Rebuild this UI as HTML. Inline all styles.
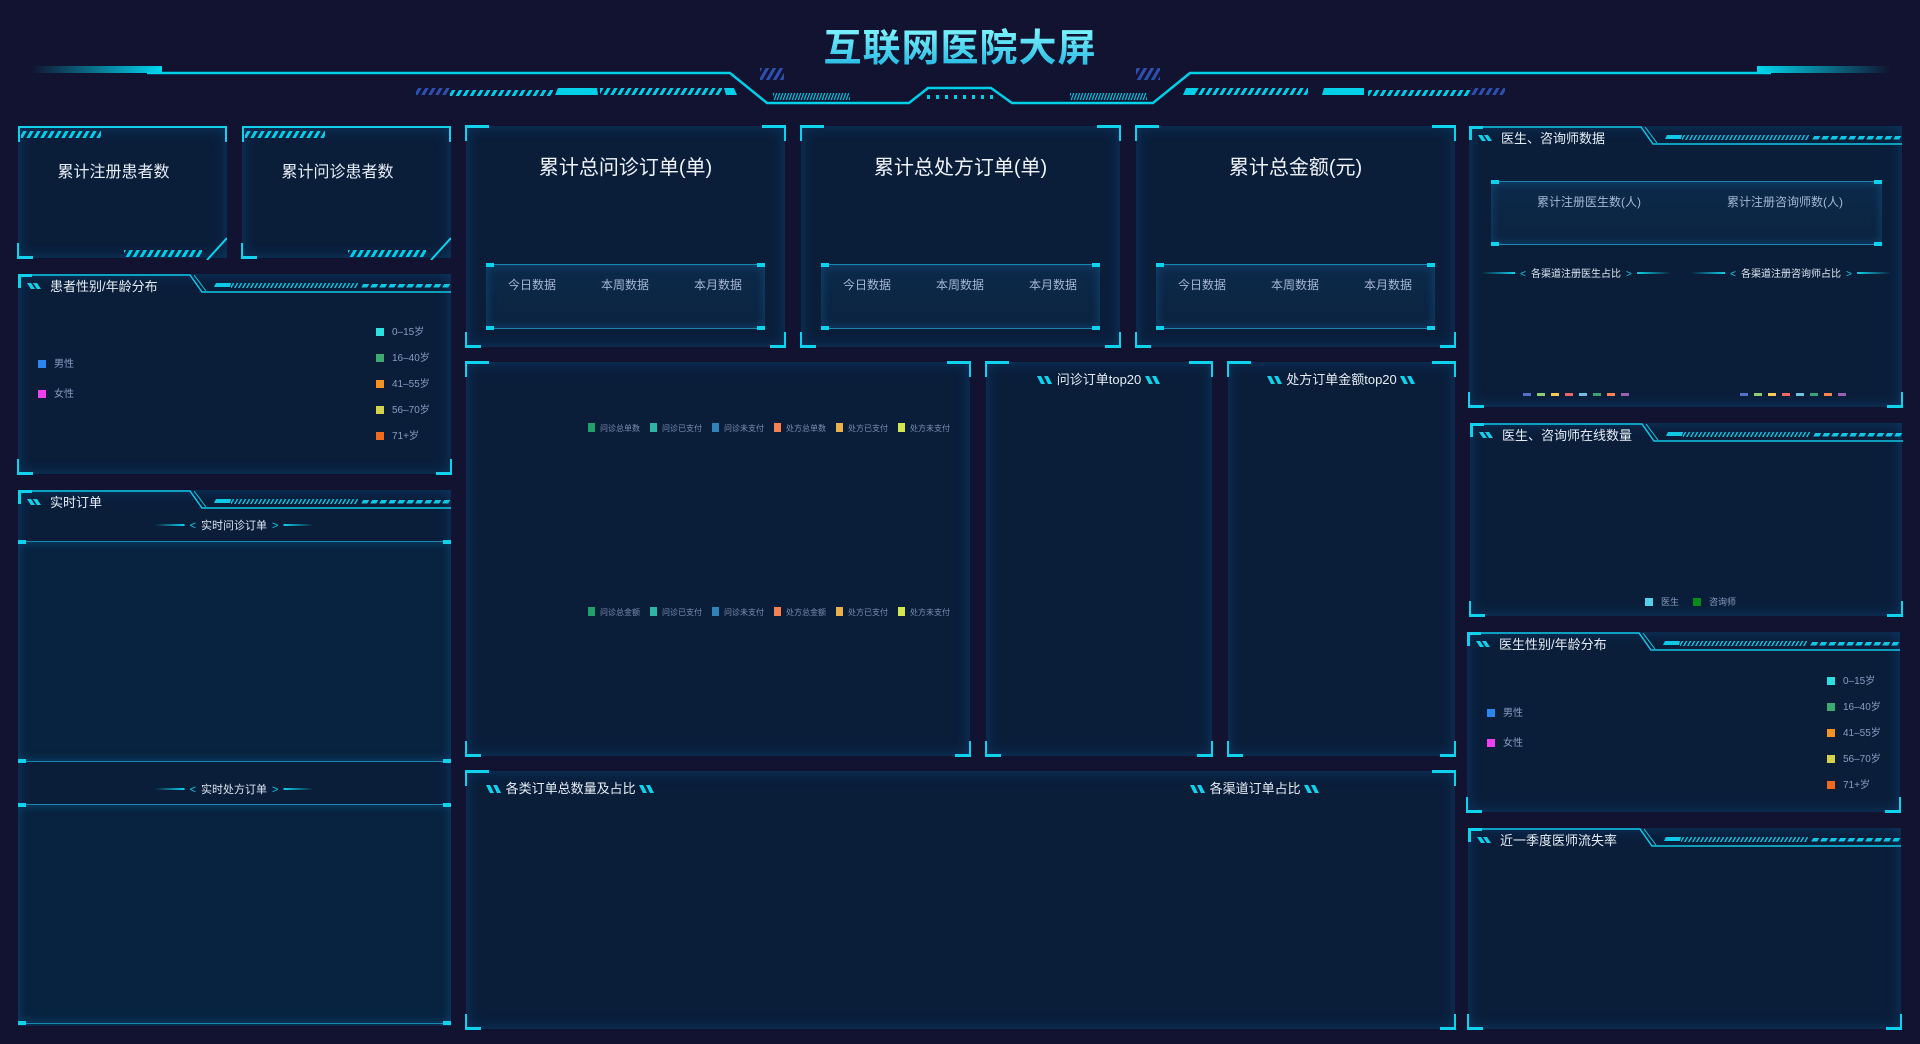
<!DOCTYPE html>
<html><head><meta charset="utf-8">
<style>
*{margin:0;padding:0;box-sizing:border-box}
body{width:1920px;height:1044px;background:#111330;overflow:hidden;position:relative;font-family:"Liberation Sans","Noto Sans CJK SC",sans-serif;color:#e6edf5}
.a{position:absolute}
.p{position:absolute;background:#0a1e3a;box-shadow:inset 0 0 14px rgba(20,110,190,.35)}
.c{position:absolute;width:16px;height:16px;border:0 solid #0fd2ec}
.tl{left:-1px;top:-1px;border-top-width:3px;border-left-width:2px;width:24px;height:16px}
.tr{right:-1px;top:-1px;border-top-width:3px;border-right-width:2px;width:24px;height:16px}
.bl{left:-1px;bottom:-1px;border-bottom-width:3px;border-left-width:2px;width:16px;height:16px}
.br{right:-1px;bottom:-1px;border-bottom-width:3px;border-right-width:2px;width:16px;height:16px}
.big{position:absolute;left:0;right:0;top:25px;text-align:center;font-size:20px;color:#f0f4fa}
.ib{position:absolute;background:linear-gradient(#0c2a4a,#0b2340);border-top:1px solid #1c86b0;border-bottom:1px solid #1c86b0;box-shadow:inset 0 0 10px rgba(30,140,220,.35)}
.ib:before,.ib:after{content:"";position:absolute;top:-2px;width:8px;height:4px;background:#0fd2ec}
.ib:before{left:0}.ib:after{right:0}
.ib i{position:absolute;bottom:-2px;width:8px;height:4px;background:#0fd2ec}
.lab{position:absolute;font-size:12px;color:#a6b6d6}
.lg{position:absolute;font-size:10px;color:#8a9cc0;white-space:nowrap}
.lg b{display:inline-block;width:8px;height:8px;margin-right:8px;vertical-align:-1px}
.cl{position:absolute;font-size:8px;color:#7d8fb0;white-space:nowrap}
.cl span{margin-right:10px}
.cl b{display:inline-block;width:7px;height:9px;margin-right:5px;vertical-align:-1px}
.t2{position:absolute;font-size:13px;color:#e6edf5;white-space:nowrap}
.sl{display:inline-block;width:16px;height:8px;vertical-align:0px}
.sub{position:absolute;font-size:11px;color:#dde6f0;white-space:nowrap;transform:translateX(-50%)}
.sub:before,.sub:after{content:"";display:inline-block;width:30px;height:2px;vertical-align:3px;background:linear-gradient(90deg,transparent,#0fd2ec)}
.sub:after{background:linear-gradient(90deg,#0fd2ec,transparent)}
.sub em{font-style:normal;color:#0fd2ec;margin:0 5px}
.sub.w:before,.sub.w:after{width:34px}
</style></head><body>

<svg class="a" style="left:0;top:0" width="1920" height="120">
<defs>
<linearGradient id="gl" x1="0" x2="1"><stop offset="0" stop-color="#00d8f0" stop-opacity="0"/><stop offset="1" stop-color="#00d8f0"/></linearGradient>
<linearGradient id="gr" x1="1" x2="0"><stop offset="0" stop-color="#00d8f0" stop-opacity="0"/><stop offset="1" stop-color="#00d8f0"/></linearGradient>
<pattern id="h" width="7" height="20" patternUnits="userSpaceOnUse" patternTransform="skewX(-30)"><rect width="3.5" height="20" fill="#00cfe8"/></pattern>
<pattern id="hb" width="7" height="20" patternUnits="userSpaceOnUse" patternTransform="skewX(-30)"><rect width="3.5" height="20" fill="#2f4fb0"/></pattern>
<pattern id="hf" width="3" height="20" patternUnits="userSpaceOnUse" patternTransform="skewX(-20)"><rect width="1.2" height="20" fill="#00cfe8"/></pattern>
<linearGradient id="tg" x1="0" y1="0" x2="0" y2="1"><stop offset="0" stop-color="#7ff6ff"/><stop offset="1" stop-color="#1fb4e0"/></linearGradient>
</defs>
<rect x="31" y="66" width="131" height="7" fill="url(#gl)"/>
<rect x="1757" y="66" width="134" height="7" fill="url(#gr)"/>
<polyline points="147,73 730,73 767,103 909,103 928,88 991,88 1012,103 1153,103 1190,73 1771,73" fill="none" stroke="#00cfe8" stroke-width="2.5"/>
<rect x="416" y="88" width="34" height="7" fill="url(#hb)"/>
<rect x="450" y="90" width="103" height="6" fill="url(#h)"/>
<polygon points="558,88 597,88 598,95 555,95" fill="#00cfe8"/>
<rect x="600" y="88" width="122" height="7" fill="url(#h)"/>
<polygon points="724,88 734,88 737,95 726,95" fill="#00cfe8"/>
<rect x="1186" y="88" width="122" height="7" fill="url(#h)"/>
<polygon points="1186,88 1196,88 1193,95 1183,95" fill="#00cfe8"/>
<polygon points="1324,88 1364,88 1364,95 1322,95" fill="#00cfe8"/>
<rect x="1368" y="90" width="103" height="6" fill="url(#h)"/>
<rect x="1471" y="88" width="34" height="7" fill="url(#hb)"/>
<rect x="760" y="68" width="24" height="12" fill="url(#hb)"/>
<rect x="1136" y="68" width="24" height="12" fill="url(#hb)"/>
<rect x="773" y="93" width="77" height="7" fill="url(#hf)"/>
<rect x="1070" y="93" width="77" height="7" fill="url(#hf)"/>
<g fill="#00cfe8"><rect x="927" y="95" width="3" height="4"/><rect x="936" y="95" width="3" height="4"/><rect x="945" y="95" width="3" height="4"/><rect x="954" y="95" width="3" height="4"/><rect x="963" y="95" width="3" height="4"/><rect x="972" y="95" width="3" height="4"/><rect x="981" y="95" width="3" height="4"/><rect x="990" y="95" width="3" height="4"/></g>
<text x="960" y="61" text-anchor="middle" font-size="38" font-weight="bold" font-family="Liberation Sans,Noto Sans CJK SC,sans-serif" fill="url(#tg)" letter-spacing="1">互联网医院大屏</text>
</svg>

<svg width="0" height="0" style="position:absolute">
<defs>
<pattern id="h2" width="4" height="10" patternUnits="userSpaceOnUse" patternTransform="skewX(-30)"><rect width="1.6" height="10" fill="#0fc8e6"/></pattern>
<pattern id="d2" width="9" height="10" patternUnits="userSpaceOnUse" patternTransform="skewX(-30)"><rect width="6" height="10" fill="#0fc8e6"/></pattern>
<symbol id="tab" viewBox="0 0 433 22">
<path d="M1,14 V1 H172 L184,18 H433" fill="none" stroke="#0fc8e6" stroke-width="1.5"/>
<path d="M176,1 L188,17" fill="none" stroke="#0fc8e6" stroke-width="1"/>
<rect x="0" y="0" width="3" height="14" fill="#0fd2ec"/><rect x="0" y="0" width="14" height="3" fill="#0fd2ec"/>
<polygon points="9,9 13,9 17,15 13,15" fill="#0fd2ec"/><polygon points="15,9 19,9 23,15 19,15" fill="#0fd2ec"/>
<polygon points="198,9 213,9 212,13 196,13" fill="#0fc8e6"/>
<rect x="213" y="9" width="127" height="5" fill="url(#h2)"/>
<rect x="343" y="10" width="90" height="3.5" fill="url(#d2)"/>
</symbol>
<symbol id="sl" viewBox="0 0 16 8"><polygon points="0,0 4,0 8,8 4,8" fill="#0fd2ec"/><polygon points="7,0 11,0 15,8 11,8" fill="#0fd2ec"/></symbol>
</defs></svg>

<div class="p" style="left:18px;top:126px;width:209px;height:132px;border-top:2px solid #0fd2ec">
<div class="a" style="left:0;top:0;width:2px;height:14px;background:#0fd2ec"></div>
<div class="a" style="right:0;top:0;width:2px;height:14px;background:#0fd2ec"></div>
<svg class="a" style="left:0;top:0" width="209" height="132"><rect x="3" y="3" width="80" height="7" fill="url(#h)"/><rect x="106" y="122" width="78" height="7" fill="url(#h)"/><line x1="209" y1="110" x2="189" y2="132" stroke="#0fd2ec" stroke-width="2"/></svg>
<div class="c bl"></div>
<div class="a" style="left:0;right:0;top:30px;text-align:center;font-size:16px;transform:translateX(-9px)">累计注册患者数</div>
</div>
<div class="p" style="left:242px;top:126px;width:209px;height:132px;border-top:2px solid #0fd2ec">
<div class="a" style="left:0;top:0;width:2px;height:14px;background:#0fd2ec"></div>
<div class="a" style="right:0;top:0;width:2px;height:14px;background:#0fd2ec"></div>
<svg class="a" style="left:0;top:0" width="209" height="132"><rect x="3" y="3" width="80" height="7" fill="url(#h)"/><rect x="106" y="122" width="78" height="7" fill="url(#h)"/><line x1="209" y1="110" x2="189" y2="132" stroke="#0fd2ec" stroke-width="2"/></svg>
<div class="c bl"></div>
<div class="a" style="left:0;right:0;top:30px;text-align:center;font-size:16px;transform:translateX(-9px)">累计问诊患者数</div>
</div>

<div class="p" style="left:18px;top:274px;width:433px;height:200px">
<svg class="a" style="left:0;top:0" width="433" height="22"><use href="#tab"/></svg>
<div class="t2" style="left:32px;top:2px">患者性别/年龄分布</div>
<div class="c bl"></div><div class="c br"></div>
<div class="lg" style="left:20px;top:81px"><b style="background:#2b86f0"></b>男性</div>
<div class="lg" style="left:20px;top:111px"><b style="background:#f040f0"></b>女性</div>
<div class="lg" style="left:358px;top:49px"><b style="background:#2ee0e0"></b>0–15岁</div>
<div class="lg" style="left:358px;top:75px"><b style="background:#3bab70"></b>16–40岁</div>
<div class="lg" style="left:358px;top:101px"><b style="background:#f79222"></b>41–55岁</div>
<div class="lg" style="left:358px;top:127px"><b style="background:#d6d24a"></b>56–70岁</div>
<div class="lg" style="left:358px;top:153px"><b style="background:#f46a1c"></b>71+岁</div>
</div>

<div class="p" style="left:18px;top:490px;width:433px;height:536px">
<svg class="a" style="left:0;top:0" width="433" height="22"><use href="#tab"/></svg>
<div class="t2" style="left:32px;top:2px">实时订单</div>
<div class="sub" style="left:216px;top:27px"><em>&lt;</em>实时问诊订单<em>&gt;</em></div>
<div class="ib" style="left:0;top:51px;width:433px;height:221px;background:#07233f"><i style="left:0"></i><i style="right:0"></i></div>
<div class="sub" style="left:216px;top:291px"><em>&lt;</em>实时处方订单<em>&gt;</em></div>
<div class="ib" style="left:0;top:314px;width:433px;height:220px;background:#07233f"><i style="left:0"></i><i style="right:0"></i></div>
</div>

<div class="p" style="left:466px;top:126px;width:319px;height:221px">
<div class="c tl"></div><div class="c tr"></div><div class="c bl"></div><div class="c br"></div>
<div class="big">累计总问诊订单(单)</div>
<div class="ib" style="left:20px;top:138px;width:279px;height:65px"><i style="left:0"></i><i style="right:0"></i>
<div class="lab" style="left:22px;top:11px">今日数据</div><div class="lab" style="left:115px;top:11px">本周数据</div><div class="lab" style="left:208px;top:11px">本月数据</div></div>
</div>
<div class="p" style="left:801px;top:126px;width:319px;height:221px">
<div class="c tl"></div><div class="c tr"></div><div class="c bl"></div><div class="c br"></div>
<div class="big">累计总处方订单(单)</div>
<div class="ib" style="left:20px;top:138px;width:279px;height:65px"><i style="left:0"></i><i style="right:0"></i>
<div class="lab" style="left:22px;top:11px">今日数据</div><div class="lab" style="left:115px;top:11px">本周数据</div><div class="lab" style="left:208px;top:11px">本月数据</div></div>
</div>
<div class="p" style="left:1136px;top:126px;width:319px;height:221px">
<div class="c tl"></div><div class="c tr"></div><div class="c bl"></div><div class="c br"></div>
<div class="big">累计总金额(元)</div>
<div class="ib" style="left:20px;top:138px;width:279px;height:65px"><i style="left:0"></i><i style="right:0"></i>
<div class="lab" style="left:22px;top:11px">今日数据</div><div class="lab" style="left:115px;top:11px">本周数据</div><div class="lab" style="left:208px;top:11px">本月数据</div></div>
</div>

<div class="p" style="left:466px;top:362px;width:504px;height:394px">
<div class="c tl"></div><div class="c tr"></div><div class="c bl"></div><div class="c br"></div>
<div class="cl" style="left:122px;top:61px"><span><b style="background:#22a06a"></b>问诊总单数</span><span><b style="background:#2db5a5"></b>问诊已支付</span><span><b style="background:#3082b8"></b>问诊未支付</span><span><b style="background:#f58050"></b>处方总单数</span><span><b style="background:#e8b14a"></b>处方已支付</span><span><b style="background:#d2e84a"></b>处方未支付</span></div>
<div class="cl" style="left:122px;top:245px"><span><b style="background:#22a06a"></b>问诊总金额</span><span><b style="background:#2db5a5"></b>问诊已支付</span><span><b style="background:#3082b8"></b>问诊未支付</span><span><b style="background:#f58050"></b>处方总金额</span><span><b style="background:#e8b14a"></b>处方已支付</span><span><b style="background:#d2e84a"></b>处方未支付</span></div>
</div>
<div class="p" style="left:986px;top:362px;width:226px;height:394px">
<div class="c tl"></div><div class="c tr"></div><div class="c bl"></div><div class="c br"></div>
<div class="t2" style="left:0;right:0;top:7px;text-align:center"><svg class="sl" viewBox="0 0 16 8"><use href="#sl"/></svg> 问诊订单top20 <svg class="sl" viewBox="0 0 16 8"><use href="#sl"/></svg></div>
</div>
<div class="p" style="left:1228px;top:362px;width:227px;height:394px">
<div class="c tl"></div><div class="c tr"></div><div class="c bl"></div><div class="c br"></div>
<div class="t2" style="left:0;right:0;top:7px;text-align:center"><svg class="sl" viewBox="0 0 16 8"><use href="#sl"/></svg> 处方订单金额top20 <svg class="sl" viewBox="0 0 16 8"><use href="#sl"/></svg></div>
</div>
<div class="p" style="left:466px;top:771px;width:989px;height:258px">
<div class="c tl"></div><div class="c tr"></div><div class="c bl"></div><div class="c br"></div>
<div class="t2" style="left:20px;top:7px"><svg class="sl" viewBox="0 0 16 8"><use href="#sl"/></svg> 各类订单总数量及占比 <svg class="sl" viewBox="0 0 16 8"><use href="#sl"/></svg></div>
<div class="t2" style="left:724px;top:7px"><svg class="sl" viewBox="0 0 16 8"><use href="#sl"/></svg> 各渠道订单占比 <svg class="sl" viewBox="0 0 16 8"><use href="#sl"/></svg></div>
</div>

<div class="p" style="left:1469px;top:126px;width:433px;height:281px">
<svg class="a" style="left:0;top:0" width="433" height="22"><use href="#tab"/></svg>
<div class="t2" style="left:32px;top:2px">医生、咨询师数据</div>
<div class="c bl"></div><div class="c br"></div>
<div class="ib" style="left:22px;top:55px;width:391px;height:64px"><i style="left:0"></i><i style="right:0"></i>
<div class="lab" style="left:46px;top:11px">累计注册医生数(人)</div><div class="lab" style="left:236px;top:11px">累计注册咨询师数(人)</div></div>
<div class="sub w" style="left:107px;top:139px;font-size:10px"><em>&lt;</em>各渠道注册医生占比<em>&gt;</em></div>
<div class="sub w" style="left:322px;top:139px;font-size:10px"><em>&lt;</em>各渠道注册咨询师占比<em>&gt;</em></div>
<svg class="a" style="left:0;top:267px" width="433" height="6">
<g><rect x="54" y="0" width="8" height="3" fill="#5470c6"/><rect x="68" y="0" width="8" height="3" fill="#91cc75"/><rect x="82" y="0" width="8" height="3" fill="#fac858"/><rect x="96" y="0" width="8" height="3" fill="#ee6666"/><rect x="110" y="0" width="8" height="3" fill="#73c0de"/><rect x="124" y="0" width="8" height="3" fill="#3ba272"/><rect x="138" y="0" width="8" height="3" fill="#fc8452"/><rect x="152" y="0" width="8" height="3" fill="#9a60b4"/></g>
<g transform="translate(217,0)"><rect x="54" y="0" width="8" height="3" fill="#5470c6"/><rect x="68" y="0" width="8" height="3" fill="#91cc75"/><rect x="82" y="0" width="8" height="3" fill="#fac858"/><rect x="96" y="0" width="8" height="3" fill="#ee6666"/><rect x="110" y="0" width="8" height="3" fill="#73c0de"/><rect x="124" y="0" width="8" height="3" fill="#3ba272"/><rect x="138" y="0" width="8" height="3" fill="#fc8452"/><rect x="152" y="0" width="8" height="3" fill="#9a60b4"/></g>
</svg>
</div>
<div class="p" style="left:1470px;top:423px;width:432px;height:193px">
<svg class="a" style="left:0;top:0" width="433" height="22"><use href="#tab"/></svg>
<div class="t2" style="left:32px;top:2px">医生、咨询师在线数量</div>
<div class="c bl"></div><div class="c br"></div>
<div class="lg" style="left:175px;top:172px;font-size:9px"><b style="background:#55d0ea"></b>医生</div>
<div class="lg" style="left:223px;top:172px;font-size:9px"><b style="background:#0a8a1a"></b>咨询师</div>
</div>
<div class="p" style="left:1467px;top:632px;width:433px;height:180px">
<svg class="a" style="left:0;top:0" width="433" height="22"><use href="#tab"/></svg>
<div class="t2" style="left:32px;top:2px">医生性别/年龄分布</div>
<div class="c bl"></div><div class="c br"></div>
<div class="lg" style="left:20px;top:72px"><b style="background:#2b86f0"></b>男性</div>
<div class="lg" style="left:20px;top:102px"><b style="background:#f040f0"></b>女性</div>
<div class="lg" style="left:360px;top:40px"><b style="background:#2ee0e0"></b>0–15岁</div>
<div class="lg" style="left:360px;top:66px"><b style="background:#3bab70"></b>16–40岁</div>
<div class="lg" style="left:360px;top:92px"><b style="background:#f79222"></b>41–55岁</div>
<div class="lg" style="left:360px;top:118px"><b style="background:#d6d24a"></b>56–70岁</div>
<div class="lg" style="left:360px;top:144px"><b style="background:#f46a1c"></b>71+岁</div>
</div>
<div class="p" style="left:1468px;top:828px;width:433px;height:201px">
<svg class="a" style="left:0;top:0" width="433" height="22"><use href="#tab"/></svg>
<div class="t2" style="left:32px;top:2px">近一季度医师流失率</div>
<div class="c bl"></div><div class="c br"></div>
</div>

</body></html>
